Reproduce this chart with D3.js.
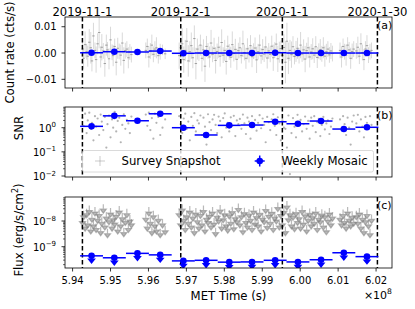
<!DOCTYPE html>
<html><head><meta charset="utf-8">
<script src="https://cdn.jsdelivr.net/npm/d3@7"></script>
<style>body{margin:0;background:#fff}svg{display:block}text{font-family:"DejaVu Sans",sans-serif;fill:#000}</style>
</head><body>
<script>
// ---------------- DATA ----------------
// Survey snapshot times (MET, units of 1e8 s)
const snapT = [
5.9426,5.9429,5.9433,5.9437,5.9440,5.9444,5.9448,5.9451,5.9455,5.9459,5.9462,5.9466,5.9470,5.9474,5.9477,5.9481,5.9485,5.9489,5.9492,5.9496,5.9500,5.9504,5.9507,5.9511,5.9515,5.9519,5.9523,5.9527,5.9531,5.9535,5.9539,5.9543,5.9547,5.9551,5.9555,
5.9593,5.9597,5.9601,5.9605,5.9609,5.9613,5.9617,5.9621,5.9626,5.9631,5.9637,5.9644,
5.9681,5.9685,5.9689,5.9693,5.9697,5.9701,5.9705,5.9709,5.9713,5.9717,
5.9721,5.9725,5.9729,5.9733,5.9737,5.9741,5.9745,5.9749,5.9753,5.9757,
5.9761,5.9765,5.9769,5.9773,5.9777,5.9781,5.9785,5.9789,5.9793,5.9797,
5.9801,5.9805,5.9809,5.9813,5.9817,5.9821,5.9825,5.9829,5.9833,5.9837,
5.9841,5.9845,5.9849,5.9853,5.9857,5.9861,5.9865,5.9869,5.9873,5.9877,
5.9881,5.9885,5.9889,5.9893,5.9897,5.9901,5.9905,5.9909,5.9913,5.9917,
5.9921,5.9925,5.9929,5.9933,5.9937,5.9941,5.9945,5.9949,5.9953,5.9957,
5.9961,5.9965,5.9969,5.9973,5.9977,5.9981,5.9985,5.9989,5.9993,5.9997,
6.0001,6.0005,6.0009,6.0013,6.0017,6.0021,6.0025,6.0029,6.0033,6.0037,
6.0041,6.0045,6.0049,6.0053,6.0057,6.0061,6.0065,6.0069,6.0073,6.0077,
6.0081,6.0085,
6.0105,6.0109,6.0113,6.0117,6.0121,6.0125,6.0129,6.0133,6.0137,6.0141,
6.0148,6.0152,6.0156,6.0160,6.0164,6.0168,6.0172,6.0176,6.0180,6.0184,6.0188];
// Snapshot count rate (units of 1e-3 cts/s) and its error
const snapRate = [
1.5,-2.0,3.2,0.5,-1.2,4.1,2.0,-3.0,6.5,1.0,-2.5,3.5,7.8,-1.5,2.2,0.8,-4.0,3.0,1.2,-2.2,5.0,0.3,-1.0,2.5,-3.5,1.8,0.6,-0.8,3.8,-2.8,0.9,1.5,-1.8,0.4,-0.6,
1.0,2.5,-1.5,0.8,3.0,-0.5,1.5,2.0,-1.0,0.5,1.2,-0.3,
-1.0,2.0,3.5,-2.5,1.0,4.5,-3.0,0.5,2.8,-1.8,5.5,-4.0,1.5,0.0,3.0,-2.0,1.2,-5.0,2.5,0.8,
-1.5,3.8,-0.5,1.8,-2.8,0.6,2.2,-1.2,4.0,-0.8,1.0,-3.2,2.6,0.4,-1.6,3.2,-0.2,1.4,-2.4,0.9,
2.0,-1.0,3.5,0.2,-2.0,1.6,-0.6,2.8,-1.4,0.7,1.9,-2.6,0.5,3.0,-1.1,1.3,-0.4,2.3,-1.9,0.8,
-0.5,2.6,-1.8,1.1,3.4,-2.2,0.3,1.7,-0.9,2.1,-3.5,4.5,-2.0,1.0,-0.6,2.4,-1.3,0.6,1.8,-1.0,
3.0,-0.4,1.2,-2.3,0.9,2.0,-1.5,0.4,1.6,-0.8,2.4,-1.7,0.7,1.3,-0.3,2.0,-1.2,0.5,1.5,-0.7,
0.8,-0.2,
1.0,-1.5,2.5,0.5,-0.8,3.0,1.2,-2.0,0.6,1.5,
0.8,2.2,-1.2,3.5,0.2,-2.5,1.5,2.8,-0.8,0.5,1.0];
const snapRateErr = [
3,4,5,3,4,5,6,4,5,3,5,4,6,4,5,3,5,4,3,4,5,3,4,3,5,4,3,4,4,5,3,3,4,3,3,
3,3,4,3,4,3,3,4,3,3,2,2,
5,4,6,5,4,5,6,4,5,4,5,6,4,3,4,5,4,6,4,3,
4,5,3,4,5,3,4,4,5,3,4,5,4,3,4,5,3,4,4,3,
4,3,5,3,4,4,3,4,4,3,4,5,3,4,3,4,3,4,4,3,
3,4,5,3,4,5,4,3,4,5,8,7,6,4,5,4,3,4,4,3,
5,3,4,5,3,4,4,3,4,3,4,4,3,4,3,4,4,3,3,3,
3,3,
3,4,3,3,4,3,3,4,3,3,
3,4,3,4,3,4,3,4,3,3,3];
const snapSNR = [
2.5,1.2,3.8,0.6,2.0,4.2,0.9,1.6,0.3,3.0,1.1,2.4,0.5,3.5,1.8,0.8,2.8,0.15,1.4,3.2,0.4,2.2,1.0,4.5,0.7,1.9,2.6,0.25,1.3,3.6,0.9,2.1,1.5,0.6,2.9,
3.5,1.2,4.2,0.8,2.5,0.35,3.8,1.6,2.8,0.5,1.0,2.2,
3.0,1.4,0.6,2.4,3.8,0.9,1.8,0.3,2.8,1.2,4.0,0.7,2.0,1.5,3.2,0.5,2.6,1.1,0.2,3.6,
1.7,0.8,2.2,3.4,1.3,0.6,2.9,1.9,0.4,2.5,3.9,1.0,1.6,0.7,2.7,1.2,3.1,0.45,2.0,1.4,
2.3,0.9,3.5,1.5,0.55,2.6,1.8,0.35,3.0,1.1,2.1,0.75,1.6,3.3,0.95,2.4,1.3,0.25,2.8,1.7,
0.8,2.2,3.6,1.2,0.5,2.7,1.5,0.3,2.0,1.0,0.9,0.15,3.2,0.012,0.6,2.5,1.1,0.4,3.4,1.6,
2.1,0.7,1.4,2.9,0.9,1.9,0.35,2.6,1.2,3.0,0.65,1.7,2.3,0.45,1.3,2.8,0.85,1.5,2.0,0.55,
1.1,2.4,
2.2,0.8,3.0,1.4,0.5,2.6,1.0,0.2,1.8,3.2,
1.5,3.4,0.7,2.2,1.1,0.4,2.8,1.6,0.9,3.0,1.3];
// Snapshot flux upper limits (erg/s/cm^2)
const snapFlux = [
15e-9,25e-9,9e-9,30e-9,12e-9,40e-9,7e-9,20e-9,11e-9,35e-9,8e-9,18e-9,28e-9,6e-9,14e-9,45e-9,10e-9,22e-9,5e-9,16e-9,32e-9,9e-9,19e-9,13e-9,26e-9,7e-9,38e-9,11e-9,21e-9,5.5e-9,15e-9,30e-9,8e-9,17e-9,12e-9,
20e-9,9e-9,35e-9,14e-9,6e-9,25e-9,11e-9,7e-9,18e-9,5e-9,12e-9,6.5e-9,
30e-9,12e-9,45e-9,18e-9,8e-9,25e-9,14e-9,38e-9,10e-9,22e-9,6e-9,32e-9,16e-9,9e-9,28e-9,12e-9,40e-9,7e-9,20e-9,15e-9,
26e-9,10e-9,35e-9,13e-9,5.5e-9,24e-9,17e-9,42e-9,9e-9,19e-9,30e-9,11e-9,7.5e-9,27e-9,14e-9,36e-9,8.5e-9,21e-9,16e-9,48e-9,
12e-9,25e-9,6.5e-9,33e-9,15e-9,10e-9,29e-9,18e-9,8e-9,38e-9,13e-9,23e-9,11e-9,31e-9,7e-9,20e-9,16e-9,44e-9,9.5e-9,26e-9,
14e-9,34e-9,8e-9,22e-9,17e-9,52e-9,10e-9,28e-9,12e-9,37e-9,6e-9,60e-9,19e-9,30e-9,11e-9,24e-9,8.5e-9,33e-9,15e-9,21e-9,
9e-9,40e-9,13e-9,27e-9,7e-9,18e-9,31e-9,11e-9,23e-9,14e-9,35e-9,8e-9,20e-9,16e-9,29e-9,10e-9,25e-9,6.5e-9,17e-9,32e-9,
12e-9,22e-9,
20e-9,12e-9,28e-9,15e-9,9e-9,35e-9,18e-9,11e-9,24e-9,14e-9,
25e-9,14e-9,32e-9,9e-9,20e-9,6e-9,16e-9,28e-9,11e-9,5e-9,18e-9];

// Weekly mosaic
const weekT = [5.9450,5.9510,5.9571,5.9631,5.9692,5.9752,5.9813,5.9873,5.9934,5.9994,6.0055,6.0115,6.0176];
const weekHalf = [0.003024,0.003024,0.003024,0.003024,0.003024,0.003024,0.003024,0.003024,0.003024,0.003024,0.003024,0.003024,0.003024];
const weekRate = [0.1,0.5,0.4,0.75,-0.1,0.0,0.0,0.0,0.1,0.0,0.0,0.0,0.0]; // 1e-3 cts/s
const weekRateErr = [0.4,0.4,0.4,0.4,0.4,0.4,0.4,0.4,0.4,0.4,0.4,0.4,0.4];
const weekSNR = [1.14,3.1,1.94,3.77,1.0,0.5,1.25,1.29,1.76,1.46,1.89,0.88,1.04];
const weekFlux = [4.4e-10,3.7e-10,5.5e-10,4.8e-10,2.8e-10,2.95e-10,2.5e-10,2.55e-10,2.95e-10,2.55e-10,3.1e-10,5.8e-10,4.1e-10];

// Date markers
const dateLabels = ["2019-11-1","2019-12-1","2020-1-1","2020-1-30"];
const dateMET = [5.94259205,5.96851205,5.99529605,6.02035205];

// Ticks
const xTicks = [5.94,5.95,5.96,5.97,5.98,5.99,6.00,6.01,6.02];
const rateTicks = [-10,0,10];
const rateTickLabels = ["\u22120.01","0.00","0.01"];
const snrTicks = [0.01,0.1,1];
const snrTickExp = ["\u22122","\u22121","0"];
const fluxTicks = [1e-9,1e-8];
const fluxTickExp = ["\u22129","\u22128"];

// ---------------- CHART ----------------
const W=415,H=309,L=65,R=392;
const PA={top:17,bottom:88}, PB={top:107,bottom:177}, PC={top:197,bottom:268};
const BLUE="#0000ff", GRAY="#808080";
const svg=d3.select("body").append("svg").attr("width",W).attr("height",H);
const defs=svg.append("defs");
[["ca",PA],["cb",PB],["cc",PC]].forEach(([id,p])=>{
  defs.append("clipPath").attr("id",id).append("rect").attr("x",L).attr("y",p.top).attr("width",R-L).attr("height",p.bottom-p.top);
});

const x=d3.scaleLinear().domain([5.9380,6.0242]).range([L,R]);
const ya=d3.scaleLinear().domain([-13.3,13.7]).range([PA.bottom,PA.top]);
const yb=d3.scaleLog().domain([0.0091,7.2]).range([PB.bottom,PB.top]);
const yc=d3.scaleLog().domain([1.48e-10,8.6e-8]).range([PC.bottom,PC.top]);

const snaps=snapT.map((t,i)=>({t,r:snapRate[i],e:snapRateErr[i],s:snapSNR[i],f:snapFlux[i]}));
const weeks=weekT.map((t,i)=>({t,h:weekHalf[i],r:weekRate[i],re:weekRateErr[i],s:weekSNR[i],f:weekFlux[i]}));

function dashed(g,p){
  g.selectAll("line.d").data(dateMET).join("line").attr("class","d")
   .attr("x1",d=>x(d)).attr("x2",d=>x(d)).attr("y1",p.top).attr("y2",p.bottom)
   .attr("stroke","#000").attr("stroke-width",1.5).attr("stroke-dasharray","4.5,2.5");
}
function xTickMarks(p,labels){
  const g=svg.append("g");
  g.selectAll("line").data(xTicks).join("line")
   .attr("x1",d=>x(d)).attr("x2",d=>x(d)).attr("y1",p.bottom).attr("y2",p.bottom+3.5)
   .attr("stroke","#000").attr("stroke-width",0.8);
  if(labels){
    g.selectAll("text").data(xTicks).join("text")
     .attr("x",d=>x(d)).attr("y",p.bottom+16).attr("text-anchor","middle")
     .attr("font-size","10px").text(d=>d3.format(".2f")(d));
  }
}
function frame(p){
  svg.append("rect").attr("x",L).attr("y",p.top).attr("width",R-L).attr("height",p.bottom-p.top)
   .attr("fill","none").attr("stroke","#000").attr("stroke-width",0.8);
}
function yTicksLin(scale,vals,labels){
  const g=svg.append("g");
  vals.forEach((v,i)=>{
    g.append("line").attr("x1",L-3.5).attr("x2",L).attr("y1",scale(v)).attr("y2",scale(v)).attr("stroke","#000").attr("stroke-width",0.8);
    g.append("text").attr("x",L-8.5).attr("y",scale(v)).attr("dy","0.35em").attr("text-anchor","end").attr("font-size","10px").text(labels[i]);
  });
}
function yTicksLog(scale,vals,exps){
  const g=svg.append("g");
  const [d0,d1]=scale.domain();
  const lo=Math.floor(Math.log10(d0)), hi=Math.ceil(Math.log10(d1));
  for(let e=lo;e<=hi;e++){
    for(let m=2;m<=9;m++){
      const v=m*Math.pow(10,e);
      if(v>=d0&&v<=d1){
        g.append("line").attr("x1",L-2).attr("x2",L).attr("y1",scale(v)).attr("y2",scale(v)).attr("stroke","#000").attr("stroke-width",0.6);
      }
    }
  }
  vals.forEach((v,i)=>{
    g.append("line").attr("x1",L-3.5).attr("x2",L).attr("y1",scale(v)).attr("y2",scale(v)).attr("stroke","#000").attr("stroke-width",0.8);
    const t=g.append("text").attr("x",L-9).attr("y",scale(v)+4).attr("text-anchor","end").attr("font-size","10px");
    t.append("tspan").text("10");
    t.append("tspan").attr("font-size","7px").attr("dy",-4.5).text(exps[i]);
  });
}

// ---- Panel (a) ----
const ga=svg.append("g").attr("clip-path","url(#ca)");
ga.selectAll("line.e").data(snaps).join("line").attr("class","e")
  .attr("x1",d=>x(d.t)).attr("x2",d=>x(d.t)).attr("y1",d=>ya(d.r-d.e)).attr("y2",d=>ya(d.r+d.e))
  .attr("stroke",GRAY).attr("stroke-opacity",0.3).attr("stroke-width",1);
ga.selectAll("line.m").data(snaps).join("line").attr("class","m")
  .attr("x1",d=>x(d.t)-1.2).attr("x2",d=>x(d.t)+1.2).attr("y1",d=>ya(d.r)).attr("y2",d=>ya(d.r))
  .attr("stroke",GRAY).attr("stroke-opacity",0.7).attr("stroke-width",1);
dashed(ga,PA);
ga.selectAll("line.wh").data(weeks).join("line").attr("class","wh")
  .attr("x1",d=>x(d.t-d.h)).attr("x2",d=>x(d.t+d.h)).attr("y1",d=>ya(d.r)).attr("y2",d=>ya(d.r))
  .attr("stroke",BLUE).attr("stroke-width",1.5);
ga.selectAll("line.wv").data(weeks).join("line").attr("class","wv")
  .attr("x1",d=>x(d.t)).attr("x2",d=>x(d.t)).attr("y1",d=>ya(d.r-d.re)).attr("y2",d=>ya(d.r+d.re))
  .attr("stroke",BLUE).attr("stroke-width",1.5);
ga.selectAll("circle").data(weeks).join("circle")
  .attr("cx",d=>x(d.t)).attr("cy",d=>ya(d.r)).attr("r",3.3).attr("fill",BLUE);
frame(PA); xTickMarks(PA,false); yTicksLin(ya,rateTicks,rateTickLabels);

// ---- Panel (b) ----
const gb=svg.append("g").attr("clip-path","url(#cb)");
gb.selectAll("circle.s").data(snaps).join("circle").attr("class","s")
  .attr("cx",d=>x(d.t)).attr("cy",d=>yb(d.s)).attr("r",1.1)
  .attr("fill",GRAY).attr("fill-opacity",0.6);
dashed(gb,PB);
gb.selectAll("line.wh").data(weeks).join("line").attr("class","wh")
  .attr("x1",d=>x(d.t-d.h)).attr("x2",d=>x(d.t+d.h)).attr("y1",d=>yb(d.s)).attr("y2",d=>yb(d.s))
  .attr("stroke",BLUE).attr("stroke-width",1.5);
gb.selectAll("circle.w").data(weeks).join("circle").attr("class","w")
  .attr("cx",d=>x(d.t)).attr("cy",d=>yb(d.s)).attr("r",3.3).attr("fill",BLUE);
// legend
const lg=svg.append("g");
lg.append("rect").attr("x",82.5).attr("y",150.5).attr("width",291).attr("height",21.5).attr("rx",2)
  .attr("fill","#fff").attr("fill-opacity",0.8).attr("stroke","#d0d0d0").attr("stroke-width",0.8);
lg.append("line").attr("x1",95).attr("x2",105).attr("y1",161).attr("y2",161).attr("stroke",GRAY).attr("stroke-opacity",0.4);
lg.append("line").attr("x1",100).attr("x2",100).attr("y1",156).attr("y2",166).attr("stroke",GRAY).attr("stroke-opacity",0.4);
lg.append("text").attr("x",121.5).attr("y",165).attr("font-size","11.7px").text("Survey Snapshot");
lg.append("line").attr("x1",254.7).attr("x2",264.7).attr("y1",161).attr("y2",161).attr("stroke",BLUE).attr("stroke-width",1.5);
lg.append("line").attr("x1",259.7).attr("x2",259.7).attr("y1",155.5).attr("y2",166.5).attr("stroke",BLUE).attr("stroke-width",1.5);
lg.append("circle").attr("cx",259.7).attr("cy",161).attr("r",3.3).attr("fill",BLUE);
lg.append("text").attr("x",281.5).attr("y",165).attr("font-size","11.7px").text("Weekly Mosaic");
frame(PB); xTickMarks(PB,false); yTicksLog(yb,snrTicks,snrTickExp);

// ---- Panel (c) ----
const gc=svg.append("g").attr("clip-path","url(#cc)");
const arrowPath=(cx,cy,len,hw,hh)=>`M${cx},${cy}V${cy+len-hh}M${cx-hw},${cy+len-hh}L${cx+hw},${cy+len-hh}L${cx},${cy+len}Z`;
gc.selectAll("path.s").data(snaps).join("path").attr("class","s")
  .attr("d",d=>arrowPath(x(d.t),yc(d.f),9,3,4))
  .attr("stroke",GRAY).attr("stroke-width",1.2).attr("fill",GRAY)
  .attr("stroke-opacity",0.55).attr("fill-opacity",0.55);
dashed(gc,PC);
gc.selectAll("line.wh").data(weeks).join("line").attr("class","wh")
  .attr("x1",d=>x(d.t-d.h)).attr("x2",d=>x(d.t+d.h)).attr("y1",d=>yc(d.f)).attr("y2",d=>yc(d.f))
  .attr("stroke",BLUE).attr("stroke-width",1.5);
gc.selectAll("path.w").data(weeks).join("path").attr("class","w")
  .attr("d",d=>arrowPath(x(d.t),yc(d.f),7,2.8,3.5))
  .attr("stroke",BLUE).attr("stroke-width",1.5).attr("fill",BLUE);
gc.selectAll("circle.w").data(weeks).join("circle").attr("class","w")
  .attr("cx",d=>x(d.t)).attr("cy",d=>yc(d.f)).attr("r",3.3).attr("fill",BLUE);
frame(PC); xTickMarks(PC,true); yTicksLog(yc,fluxTicks,fluxTickExp);

// ---- Text ----
svg.selectAll("text.date").data(dateMET).join("text").attr("class","date")
  .attr("x",d=>x(d)).attr("y",15.5).attr("text-anchor","middle").attr("font-size","11.6px")
  .text((d,i)=>dateLabels[i]);
[["(a)",PA],["(b)",PB],["(c)",PC]].forEach(([s,p])=>{
  svg.append("text").attr("x",377).attr("y",p.top+12).attr("font-size","11px").text(s);
});
svg.append("text").attr("x",(L+R)/2).attr("y",300).attr("text-anchor","middle").attr("font-size","11.7px").text("MET Time (s)");
const off=svg.append("text").attr("x",392).attr("y",299).attr("text-anchor","end").attr("font-size","11px");
off.append("tspan").text("\u00d710");
off.append("tspan").attr("font-size","7.7px").attr("dy",-5).text("8");

svg.append("text").attr("transform","translate(13.5,52.5) rotate(-90)").attr("text-anchor","middle").attr("font-size","11.7px").text("Count rate (cts/s)");
svg.append("text").attr("transform","translate(22.5,128) rotate(-90)").attr("text-anchor","middle").attr("font-size","11.7px").text("SNR");
const fl=svg.append("text").attr("transform","translate(22.5,230) rotate(-90)").attr("text-anchor","middle").attr("font-size","11.7px");
fl.append("tspan").text("Flux (erg/s/cm");
fl.append("tspan").attr("font-size","8px").attr("dy",-4.5).text("2");
fl.append("tspan").attr("dy",4.5).text(")");
</script>
</body></html>
